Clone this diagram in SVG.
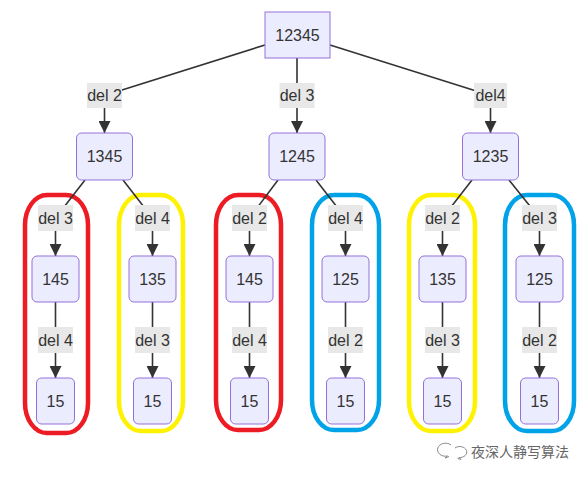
<svg xmlns="http://www.w3.org/2000/svg" width="587" height="477" viewBox="0 0 587 477">
<style>
.node rect{fill:#ECECFF;stroke:#9370DB;stroke-width:1}
.node text,.lbl text{font-family:"Liberation Sans",Arial,sans-serif;font-size:16px;fill:#333;text-anchor:middle;dominant-baseline:central}
.lbl rect{fill:#e8e8e8}
.edge{stroke:#333;stroke-width:1.6;fill:none}
.grp{fill:none;stroke-width:4.5}
</style>
<defs>
<marker id="arr" markerUnits="userSpaceOnUse" markerWidth="12" markerHeight="12" viewBox="0 0 10 10" refX="10" refY="5" orient="auto">
<path d="M0,0 L10,5 L0,10 z" fill="#333"/>
</marker>
</defs>
<rect width="587" height="477" fill="#fff"/>

<g id="groups">
<rect class="grp" x="25" y="195" width="63" height="238" rx="22" ry="30" stroke="#ED1C24"/>
<rect class="grp" x="119" y="195" width="64" height="236" rx="22" ry="30" stroke="#FFF200"/>
<rect class="grp" x="216" y="195" width="65" height="235" rx="22" ry="30" stroke="#ED1C24"/>
<rect class="grp" x="312" y="195" width="67" height="235" rx="22" ry="30" stroke="#00A2E8"/>
<rect class="grp" x="409" y="195" width="66" height="236" rx="22" ry="30" stroke="#FFF200"/>
<rect class="grp" x="505" y="195" width="69" height="236" rx="22" ry="30" stroke="#00A2E8"/>
</g>

<g id="connectors">
<path class="edge" d="M265,45 L104.5,95.5"/>
<path class="edge" d="M297,58 L297,95.5"/>
<path class="edge" d="M330,45 L490.5,95.5"/>
<path class="edge" d="M104.5,108 L104.5,133" marker-end="url(#arr)"/>
<path class="edge" d="M297,108 L297,133" marker-end="url(#arr)"/>
<path class="edge" d="M490.5,108 L490.5,133" marker-end="url(#arr)"/>

<path class="edge" d="M85,180 L55.5,218"/>
<path class="edge" d="M123,180 L152.5,218"/>
<path class="edge" d="M278,180 L249.5,218"/>
<path class="edge" d="M316,180 L345.5,218"/>
<path class="edge" d="M472,180 L442.5,218"/>
<path class="edge" d="M509,180 L539.5,218"/>

<path class="edge" d="M55.5,231 L55.5,256" marker-end="url(#arr)"/>
<path class="edge" d="M152.5,231 L152.5,256" marker-end="url(#arr)"/>
<path class="edge" d="M249.5,231 L249.5,256" marker-end="url(#arr)"/>
<path class="edge" d="M345.5,231 L345.5,256" marker-end="url(#arr)"/>
<path class="edge" d="M442.5,231 L442.5,256" marker-end="url(#arr)"/>
<path class="edge" d="M539.5,231 L539.5,256" marker-end="url(#arr)"/>

<path class="edge" d="M55.5,302 L55.5,378" marker-end="url(#arr)"/>
<path class="edge" d="M152.5,302 L152.5,378" marker-end="url(#arr)"/>
<path class="edge" d="M249.5,302 L249.5,378" marker-end="url(#arr)"/>
<path class="edge" d="M345.5,302 L345.5,378" marker-end="url(#arr)"/>
<path class="edge" d="M442.5,302 L442.5,378" marker-end="url(#arr)"/>
<path class="edge" d="M539.5,302 L539.5,378" marker-end="url(#arr)"/>
</g>

<g id="labels">
<g class="lbl"><rect x="87" y="83" width="35" height="25"/><text x="104.5" y="95.5">del 2</text></g>
<g class="lbl"><rect x="279.5" y="83" width="35" height="25"/><text x="297" y="95.5">del 3</text></g>
<g class="lbl"><rect x="474" y="83" width="33" height="25"/><text x="490.5" y="95.5">del4</text></g>

<g class="lbl"><rect x="38" y="205" width="35" height="26"/><text x="55.5" y="218">del 3</text></g>
<g class="lbl"><rect x="135" y="205" width="35" height="26"/><text x="152.5" y="218">del 4</text></g>
<g class="lbl"><rect x="232" y="205" width="35" height="26"/><text x="249.5" y="218">del 2</text></g>
<g class="lbl"><rect x="328" y="205" width="35" height="26"/><text x="345.5" y="218">del 4</text></g>
<g class="lbl"><rect x="425" y="205" width="35" height="26"/><text x="442.5" y="218">del 2</text></g>
<g class="lbl"><rect x="522" y="205" width="35" height="26"/><text x="539.5" y="218">del 3</text></g>

<g class="lbl"><rect x="38" y="327" width="35" height="26"/><text x="55.5" y="340">del 4</text></g>
<g class="lbl"><rect x="135" y="327" width="35" height="26"/><text x="152.5" y="340">del 3</text></g>
<g class="lbl"><rect x="232" y="327" width="35" height="26"/><text x="249.5" y="340">del 4</text></g>
<g class="lbl"><rect x="328" y="327" width="35" height="26"/><text x="345.5" y="340">del 2</text></g>
<g class="lbl"><rect x="425" y="327" width="35" height="26"/><text x="442.5" y="340">del 3</text></g>
<g class="lbl"><rect x="522" y="327" width="35" height="26"/><text x="539.5" y="340">del 2</text></g>
</g>

<g id="n12345" class="node"><rect x="265" y="12" width="65" height="46"/><text x="297.5" y="35">12345</text></g>
<g id="n1345" class="node"><rect x="76.5" y="133" width="56" height="47" rx="5"/><text x="104.5" y="156.5">1345</text></g>
<g id="n1245" class="node"><rect x="269" y="133" width="56" height="47" rx="5"/><text x="297" y="156.5">1245</text></g>
<g id="n1235" class="node"><rect x="462.5" y="133" width="56" height="47" rx="5"/><text x="490.5" y="156.5">1235</text></g>

<g id="n145a" class="node"><rect x="32" y="256" width="47" height="46" rx="5"/><text x="55.5" y="279">145</text></g>
<g id="n135a" class="node"><rect x="129" y="256" width="47" height="46" rx="5"/><text x="152.5" y="279">135</text></g>
<g id="n145b" class="node"><rect x="226" y="256" width="47" height="46" rx="5"/><text x="249.5" y="279">145</text></g>
<g id="n125a" class="node"><rect x="322" y="256" width="47" height="46" rx="5"/><text x="345.5" y="279">125</text></g>
<g id="n135b" class="node"><rect x="419" y="256" width="47" height="46" rx="5"/><text x="442.5" y="279">135</text></g>
<g id="n125b" class="node"><rect x="516" y="256" width="47" height="46" rx="5"/><text x="539.5" y="279">125</text></g>

<g id="n15a" class="node"><rect x="36.5" y="378" width="38" height="46" rx="5"/><text x="55.5" y="401">15</text></g>
<g id="n15b" class="node"><rect x="133.5" y="378" width="38" height="46" rx="5"/><text x="152.5" y="401">15</text></g>
<g id="n15c" class="node"><rect x="230.5" y="378" width="38" height="46" rx="5"/><text x="249.5" y="401">15</text></g>
<g id="n15d" class="node"><rect x="326.5" y="378" width="38" height="46" rx="5"/><text x="345.5" y="401">15</text></g>
<g id="n15e" class="node"><rect x="423.5" y="378" width="38" height="46" rx="5"/><text x="442.5" y="401">15</text></g>
<g id="n15f" class="node"><rect x="520.5" y="378" width="38" height="46" rx="5"/><text x="539.5" y="401">15</text></g>

<g id="watermark">
<g fill="none" stroke="#888" stroke-width="1">
<path d="M451,445 a8,6.5 0 1 0 -3.5,11 l-2.5,2 l4,-1.5"/>
<path d="M455,448 a7,5.5 0 1 1 4,9.5 l2,2 l-3.5,-1.2"/>
</g>
<text x="471" y="457" font-family="'Noto Sans CJK SC',sans-serif" font-size="14" fill="#666">夜深人静写算法</text>
</g>
</svg>
